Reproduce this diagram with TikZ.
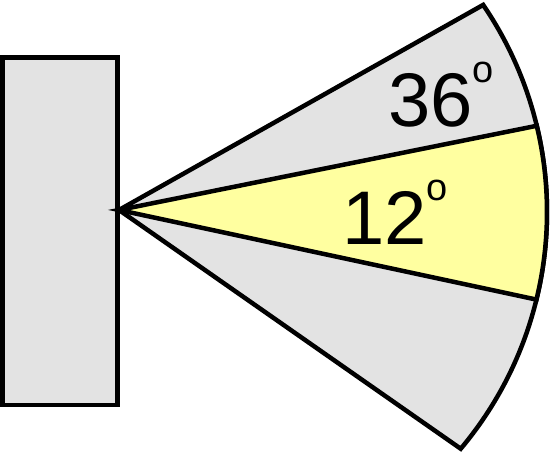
\documentclass[tikz,border=0pt]{standalone}
\usepackage{fontspec}
\setmainfont{Liberation Sans}
\usepackage{tikz}
\usetikzlibrary{calc}
\definecolor{sectorgray}{RGB}{227,227,227}
\definecolor{beamyellow}{RGB}{255,255,160}
\newcommand{\degmark}{\raisebox{44pt}{\fontsize{38}{38}\selectfont o}}

\begin{document}
\begin{tikzpicture}[x=1pt,y=1pt,line width=4.5pt, part/.style={draw=black,fill=sectorgray},beam/.style={draw=black,fill=beamyellow},anglelabel/.style={font=\fontsize{76}{76}\selectfont,inner sep=0pt,anchor=base west}]
              \useasboundingbox (0,0) rectangle (553,457);
              \coordinate (apex) at (119,247);
              \coordinate (ctr) at (179,245);
              \coordinate (wallsw) at (2.5,52);
              \coordinate (wallne) at (117.5,399.5);

              \draw[part] (wallsw) rectangle (wallne);
              \draw[part] (apex) -- ($(ctr)+(34.25:368)$) arc[start angle=34.25,end angle=-40.04,radius=368] -- cycle;
              \draw[beam] (apex) -- ($(ctr)+(13.55:368)$) arc[start angle=13.55,end angle=-13.77,radius=368] -- cycle;
              \node[anglelabel] (wide) at (386,330) {36\degmark};
              \node[anglelabel] (narrow) at (340,212) {12\degmark};
            \end{tikzpicture}
\end{document}
